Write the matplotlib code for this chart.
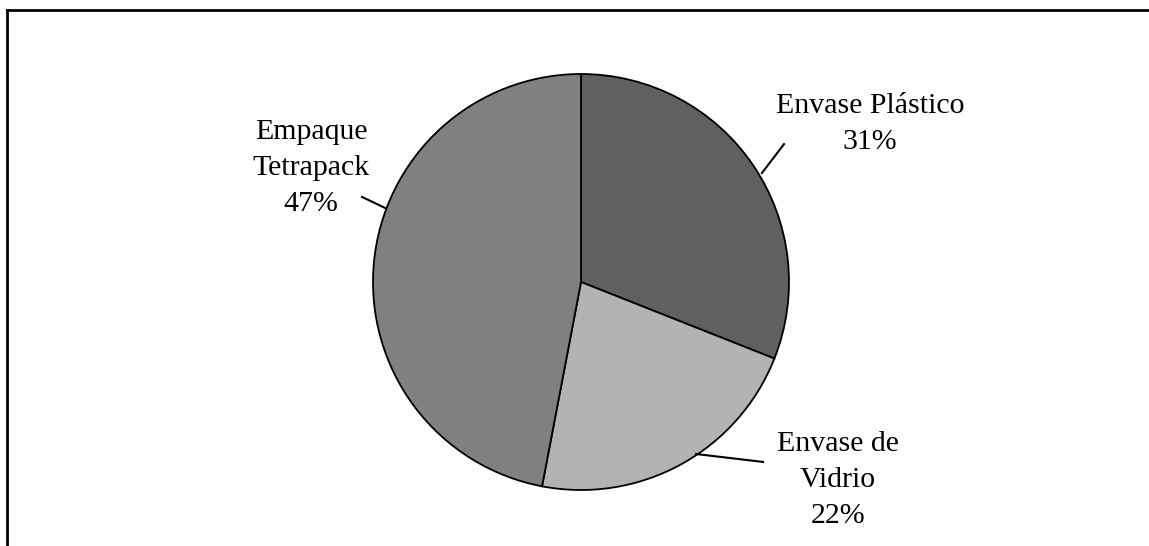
import matplotlib
matplotlib.use('Agg')
import matplotlib.pyplot as plt
from matplotlib.lines import Line2D

# Datos del gráfico
categorias = ['Envase Plástico', 'Envase de\nVidrio', 'Empaque\nTetrapack']
porcentajes = [31, 22, 47]
colores = ['#606060', '#b3b3b3', '#808080']

plt.rcParams['font.family'] = ['Liberation Serif', 'DejaVu Serif']

W, H = 1149, 546
fig = plt.figure(figsize=(W / 100, H / 100), dpi=100)

# Centro del pastel (px) y radio
cx, cy, r = 581, 282, 208
ax = fig.add_axes([(cx - r) / W, (H - cy - r) / H, 2 * r / W, 2 * r / H])
ax.pie(porcentajes, colors=colores, startangle=90, counterclock=False,
       radius=1, wedgeprops=dict(edgecolor='black', linewidth=1.3))
ax.set_xlim(-1, 1)
ax.set_ylim(-1, 1)
ax.set_aspect('equal')
ax.set_clip_on(False)
ax.axis('off')

# Etiquetas y líneas guía
posiciones = [(1.389, 0.760), (1.236, -0.952), (-1.298, 0.548)]
guias = [((0.870, 0.524), (0.976, 0.663)),
         ((0.553, -0.827), (0.875, -0.865)),
         ((-0.942, 0.356), (-1.053, 0.409))]
for cat, pct, pos, (p0, p1) in zip(categorias, porcentajes, posiciones, guias):
    ax.text(pos[0], pos[1], f'{cat}\n{pct}%', ha='center', va='center',
            fontsize=21.5, linespacing=1.48, clip_on=False)
    ax.plot([p0[0], p1[0]], [p0[1], p1[1]], color='black', lw=1.5, clip_on=False)

# Marco (izquierda y arriba)
x0 = 7 / W
y0 = 1 - 10 / H
fig.add_artist(Line2D([x0, x0], [0, y0], color='black', lw=2))
fig.add_artist(Line2D([x0, 1], [y0, y0], color='black', lw=2))

fig.savefig('out.png', dpi=100, facecolor='white')
